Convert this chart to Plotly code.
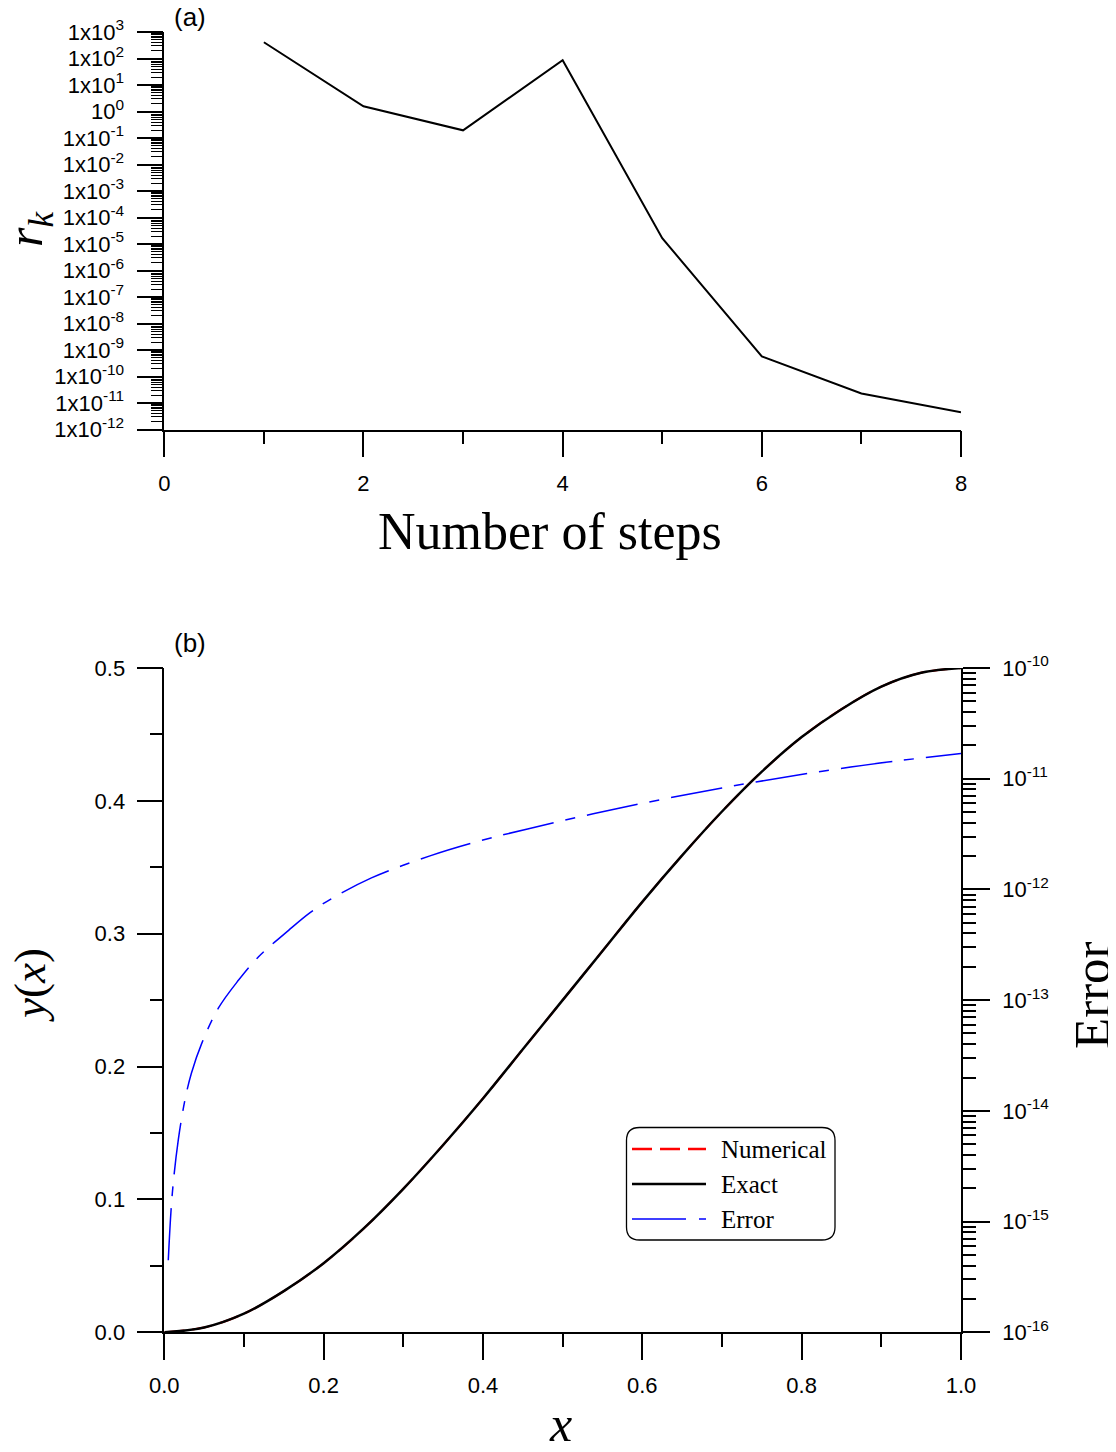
import plotly.graph_objects as go

# the browser page adds an 8px body margin on every side; size the figure so that
# it fits without scrollbars and map reference pixels accordingly
OFF = 8
W, H = 1116 - 2 * OFF, 1452 - 2 * OFF

# ---------------- data ----------------
steps = [1, 2, 3, 4, 5, 6, 7, 8]
r_k = [410, 1.57, 0.195, 86, 1.66e-5, 5.7e-10, 2.3e-11, 4.5e-12]

x_sol = [0, 0.05, 0.1, 0.15, 0.2, 0.25, 0.3, 0.35, 0.4, 0.45, 0.5,
         0.55, 0.6, 0.65, 0.7, 0.75, 0.8, 0.85, 0.9, 0.95, 1.0]
y_numerical = [0, 0.0036, 0.014, 0.031, 0.052, 0.078, 0.108, 0.141, 0.176, 0.213, 0.25,
               0.287, 0.324, 0.359, 0.392, 0.422, 0.448, 0.469, 0.486, 0.4964, 0.5]
y_exact = [0, 0.0036, 0.014, 0.031, 0.052, 0.078, 0.108, 0.141, 0.176, 0.213, 0.25,
           0.287, 0.324, 0.359, 0.392, 0.422, 0.448, 0.469, 0.486, 0.4964, 0.5]

x_err = [0.005, 0.010, 0.0176, 0.026, 0.034, 0.047, 0.068, 0.093, 0.118, 0.156,
         0.183, 0.208, 0.26, 0.3335, 0.3955, 0.456, 0.572, 0.700, 0.828, 0.924, 1.0]
err = [4.47e-16, 1.78e-15, 5.5e-15, 1.26e-14, 2.19e-14, 4.07e-14, 8.5e-14, 1.51e-13,
       2.45e-13, 4.27e-13, 6.17e-13, 8.1e-13, 1.27e-12, 2.01e-12, 2.74e-12, 3.52e-12,
       5.44e-12, 8.26e-12, 1.175e-11, 1.46e-11, 1.69e-11]

rk_exps = list(range(3, -13, -1))
rk_ticktext = ["10<sup>0</sup>" if e == 0 else "1x10<sup>%d</sup>" % e for e in rk_exps]
err_exps = list(range(-10, -17, -1))
err_ticktext = ["10<sup>%d</sup>" % e for e in err_exps]

legend_names = ["Numerical", "Exact", "Error"]

# ---------------- helpers (reference pixel -> paper) ----------------
def px(x):
    return (x - OFF) / W

def py(y):
    return 1 - (y - OFF) / H

X0, X1 = 164.3, 961
TOP_A, BOT_A = 32, 429.5
TOP_B, BOT_B = 668, 1332.3

TICKFONT = dict(family="Liberation Sans, Arial", size=22, color="black")
SERIF = "Liberation Serif, Times New Roman"

def axis_common():
    return dict(showline=True, linecolor="black", linewidth=1.5, showgrid=False,
                zeroline=False, automargin=False, ticks="outside", tickwidth=1.5,
                tickcolor="black", tickfont=TICKFONT, color="black")

def minor_common(vals, ln, w=1.5):
    return dict(tickmode="array", tickvals=vals, ticks="outside", ticklen=ln,
                tickwidth=w, tickcolor="black", showgrid=False)

fig = go.Figure()

# panel (a)
fig.add_trace(go.Scatter(x=steps, y=r_k, mode="lines", name="r_k",
                         line=dict(color="black", width=2), showlegend=False,
                         xaxis="x", yaxis="y"))

# panel (b)
fig.add_trace(go.Scatter(x=x_sol, y=y_numerical, mode="lines", name=legend_names[0],
                         line=dict(color="red", width=2, dash="20px,8px", shape="spline"),
                         showlegend=False, xaxis="x2", yaxis="y2"))
fig.add_trace(go.Scatter(x=x_sol, y=y_exact, mode="lines", name=legend_names[1],
                         line=dict(color="black", width=2.5, shape="spline"),
                         showlegend=False, xaxis="x2", yaxis="y2"))
fig.add_trace(go.Scatter(x=x_err, y=err, mode="lines", name=legend_names[2],
                         line=dict(color="blue", width=1.5, dash="52px,12px,10px,12px",
                                   shape="spline", smoothing=1.0),
                         showlegend=False, xaxis="x2", yaxis="y3"))

minor_rk = [m * 10.0 ** e for e in range(-12, 3) for m in range(2, 10)]
minor_err = [m * 10.0 ** e for e in range(-16, -10) for m in range(2, 10)]

fig.update_layout(
    template="none",
    width=W, height=H,
    margin=dict(l=0, r=0, t=0, b=0, pad=0),
    paper_bgcolor="white", plot_bgcolor="white",
    showlegend=False,
    xaxis=dict(domain=[px(X0), px(X1)], anchor="y", range=[0, 8], **axis_common(),
               tickmode="array", tickvals=[0, 2, 4, 6, 8], ticklen=26,
               ticklabelstandoff=7, minor=minor_common([1, 3, 5, 7], 13)),
    yaxis=dict(domain=[py(BOT_A), py(TOP_A)], anchor="x", type="log", range=[-12, 3],
               **axis_common(),
               tickmode="array", tickvals=[10.0 ** e for e in rk_exps], ticktext=rk_ticktext,
               ticklen=26, ticklabelstandoff=8, minor=minor_common(minor_rk, 12, 1.2)),
    xaxis2=dict(domain=[px(X0), px(X1)], anchor="y2", range=[0, 1], **axis_common(),
                tickmode="array", tickvals=[0, 0.2, 0.4, 0.6, 0.8, 1.0], tickformat=".1f",
                ticklen=26, ticklabelstandoff=7,
                minor=minor_common([0.1, 0.3, 0.5, 0.7, 0.9], 13)),
    yaxis2=dict(domain=[py(BOT_B), py(TOP_B)], anchor="x2", range=[0, 0.5], **axis_common(),
                tickmode="array", tickvals=[0, 0.1, 0.2, 0.3, 0.4, 0.5], tickformat=".1f",
                ticklen=26, ticklabelstandoff=7,
                minor=minor_common([0.05, 0.15, 0.25, 0.35, 0.45], 13)),
    yaxis3=dict(domain=[py(BOT_B), py(TOP_B)], anchor="x2", overlaying="y2", side="right",
                type="log", range=[-16, -10], **axis_common(),
                tickmode="array", tickvals=[10.0 ** e for e in err_exps], ticktext=err_ticktext,
                ticklen=27, ticklabelstandoff=8, minor=minor_common(minor_err, 13)),
)

ann = []
ann.append(dict(x=px(190), y=py(17), text="(a)", font=dict(family="Liberation Sans, Arial", size=26)))
ann.append(dict(x=px(190), y=py(643), text="(b)", font=dict(family="Liberation Sans, Arial", size=26)))
ann.append(dict(x=px(29), y=py(229), text="<i>r</i><sub><i>k</i></sub>", textangle=-90,
                font=dict(family=SERIF, size=50)))
ann.append(dict(x=px(550), y=py(531), text="Number of steps", font=dict(family=SERIF, size=52)))
ann.append(dict(x=px(30), y=py(985), text="<i>y</i>(<i>x</i>)", textangle=-90,
                font=dict(family=SERIF, size=45)))
ann.append(dict(x=px(560), y=py(1424), text="<i>x</i>", font=dict(family=SERIF, size=50)))
ann.append(dict(x=px(1092), y=py(995), text="Error", textangle=-90, font=dict(family=SERIF, size=51)))

# manual legend (rounded box)
LX0, LX1, LY0, LY1, R = 626.5, 835, 1127.5, 1240, 13
def P(x, y):
    return "%.5f,%.5f" % (px(x), py(y))
path = ("M " + P(LX0 + R, LY0) + " L " + P(LX1 - R, LY0) +
        " Q " + P(LX1, LY0) + " " + P(LX1, LY0 + R) +
        " L " + P(LX1, LY1 - R) + " Q " + P(LX1, LY1) + " " + P(LX1 - R, LY1) +
        " L " + P(LX0 + R, LY1) + " Q " + P(LX0, LY1) + " " + P(LX0, LY1 - R) +
        " L " + P(LX0, LY0 + R) + " Q " + P(LX0, LY0) + " " + P(LX0 + R, LY0) + " Z")
shapes = [dict(type="path", xref="paper", yref="paper", path=path,
               line=dict(color="black", width=1.3), fillcolor="rgba(0,0,0,0)")]
leg_rows = [1149, 1184, 1219]
leg_styles = [dict(color="red", width=2.5, dash="20px,8px"),
              dict(color="black", width=2.5),
              dict(color="blue", width=1.5, dash="54px,13px,7px,13px")]
for name, yy, st in zip(legend_names, leg_rows, leg_styles):
    shapes.append(dict(type="line", xref="paper", yref="paper",
                       x0=px(632), x1=px(706), y0=py(yy), y1=py(yy), line=st))
    ann.append(dict(x=px(719), y=py(yy), text=name, xanchor="left",
                    font=dict(family=SERIF, size=25)))

for a in ann:
    a.setdefault("xref", "paper")
    a.setdefault("yref", "paper")
    a.setdefault("showarrow", False)
    a.setdefault("xanchor", "center")
    a.setdefault("yanchor", "middle")
    a["font"].setdefault("color", "black")

fig.update_layout(annotations=ann, shapes=shapes)

fig.write_html("out.html")
